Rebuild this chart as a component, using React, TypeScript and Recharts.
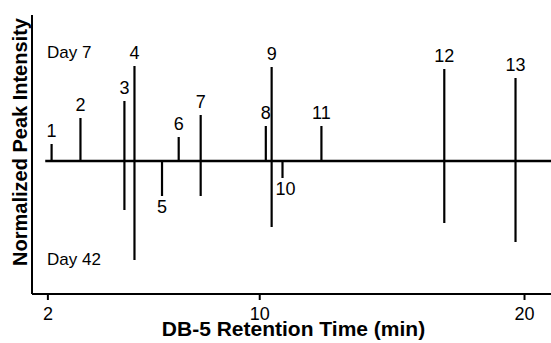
import React from "react";
import {
  ComposedChart,
  XAxis,
  YAxis,
  Scatter,
  ReferenceLine,
  LabelList,
} from "recharts";

// Peak identifiers
const peakIds = ["1", "2", "3", "4", "5", "6", "7", "8", "9", "10", "11", "12", "13"];
// Retention times (min) on DB-5 column
const retentionTimes = [2.14, 3.23, 4.89, 5.27, 6.31, 6.94, 7.77, 10.23, 10.45, 10.86, 12.33, 16.97, 19.66];
// Normalized intensities, Day 7 (plotted upward)
const day7 = [17, 43, 60, 95, 0, 24, 46, 35, 94, 0, 35, 92, 83];
// Normalized intensities, Day 42 (plotted downward)
const day42 = [0, 0, 49, 99, 35, 0, 35, 0, 66, 17, 0, 62, 81];
// Axis ticks
const xTicks = [2, 10, 20];
// Panel annotations
const annotations = [
  { t: 1.97, v: 103, text: "Day 7" },
  { t: 1.97, v: -104, text: "Day 42" },
];

const X_DOMAIN: [number, number] = [1.4, 21];
const Y_DOMAIN: [number, number] = [-133, 146];

const posLabels = peakIds
  .map((id, i) => ({ t: retentionTimes[i], v: day7[i], id }))
  .filter((d) => d.v > 0);
const negLabels = peakIds
  .map((id, i) => ({ t: retentionTimes[i], v: -day42[i], id, up: day7[i] }))
  .filter((d) => d.up === 0 && d.v < 0);

const FONT = "Liberation Sans, Arial, Helvetica, sans-serif";

const NoShape = () => <g />;

export default function App() {
  return (
    <div style={{ position: "absolute", left: 0, top: 0, background: "#fff" }}>
      <ComposedChart
        width={551}
        height={343}
        margin={{ top: 15, right: 0, bottom: 9, left: 0 }}
      >
        <XAxis
          type="number"
          dataKey="t"
          domain={X_DOMAIN}
          ticks={xTicks}
          allowDataOverflow
          height={40}
          tickSize={6}
          tickMargin={7}
          tickLine={{ stroke: "#000", strokeWidth: 2 }}
          axisLine={{ stroke: "#000", strokeWidth: 2 }}
          tick={{ fill: "#000", fontSize: 18, fontFamily: FONT }}
          label={{
            content: (props: any) => {
              const vb = props.viewBox || { x: 32, y: 294, width: 519, height: 40 };
              return (
                <text
                  x={vb.x + vb.width / 2 + 2}
                  y={vb.y + 42}
                  textAnchor="middle"
                  fontFamily={FONT}
                  fontWeight="bold"
                  fontSize={21}
                  fill="#000"
                >
                  DB-5 Retention Time (min)
                </text>
              );
            },
          }}
        />
        <YAxis
          type="number"
          dataKey="v"
          domain={Y_DOMAIN}
          allowDataOverflow
          width={32}
          tick={false}
          tickLine={false}
          axisLine={{ stroke: "#000", strokeWidth: 2 }}
          label={{
            content: (props: any) => {
              const vb = props.viewBox || { x: 0, y: 15, width: 32, height: 279 };
              const cx = 27;
              const cy = vb.y + 127;
              return (
                <text
                  x={cx}
                  y={cy}
                  textAnchor="middle"
                  transform={`rotate(-90, ${cx}, ${cy})`}
                  fontFamily={FONT}
                  fontWeight="bold"
                  fontSize={20}
                  fill="#000"
                >
                  Normalized Peak Intensity
                </text>
              );
            },
          }}
        />
        <ReferenceLine
          segment={[
            { x: 1.9, y: 0 },
            { x: 21, y: 0 },
          ]}
          stroke="#000"
          strokeWidth={2.5}
          ifOverflow="visible"
        />
        {retentionTimes.map((t, i) =>
          day7[i] > 0 ? (
            <ReferenceLine
              key={`p${i}`}
              segment={[
                { x: t, y: 0 },
                { x: t, y: day7[i] },
              ]}
              stroke="#000"
              strokeWidth={2.2}
            />
          ) : null
        )}
        {retentionTimes.map((t, i) =>
          day42[i] > 0 ? (
            <ReferenceLine
              key={`n${i}`}
              segment={[
                { x: t, y: 0 },
                { x: t, y: -day42[i] },
              ]}
              stroke="#000"
              strokeWidth={2.2}
            />
          ) : null
        )}
        <Scatter data={posLabels} dataKey="v" shape={NoShape} isAnimationActive={false}>
          <LabelList
            dataKey="id"
            content={(p: any) => (
              <text
                x={p.x + (p.width || 0) / 2}
                y={p.y + (p.height || 0) / 2 - 7}
                textAnchor="middle"
                fontFamily={FONT}
                fontSize={18}
                fill="#000"
              >
                {p.value}
              </text>
            )}
          />
        </Scatter>
        <Scatter data={negLabels} dataKey="v" shape={NoShape} isAnimationActive={false}>
          <LabelList
            dataKey="id"
            content={(p: any) => (
              <text
                x={p.x + (p.width || 0) / 2 + (p.value === "10" ? 3 : 0)}
                y={p.y + (p.height || 0) / 2 + 17}
                textAnchor="middle"
                fontFamily={FONT}
                fontSize={18}
                fill="#000"
              >
                {p.value}
              </text>
            )}
          />
        </Scatter>
        <Scatter data={annotations} dataKey="v" shape={NoShape} isAnimationActive={false}>
          <LabelList
            dataKey="text"
            content={(p: any) => (
              <text
                x={p.x + (p.width || 0) / 2}
                y={p.y + (p.height || 0) / 2}
                textAnchor="start"
                fontFamily={FONT}
                fontSize={17}
                fill="#000"
              >
                {p.value}
              </text>
            )}
          />
        </Scatter>
      </ComposedChart>
    </div>
  );
}
